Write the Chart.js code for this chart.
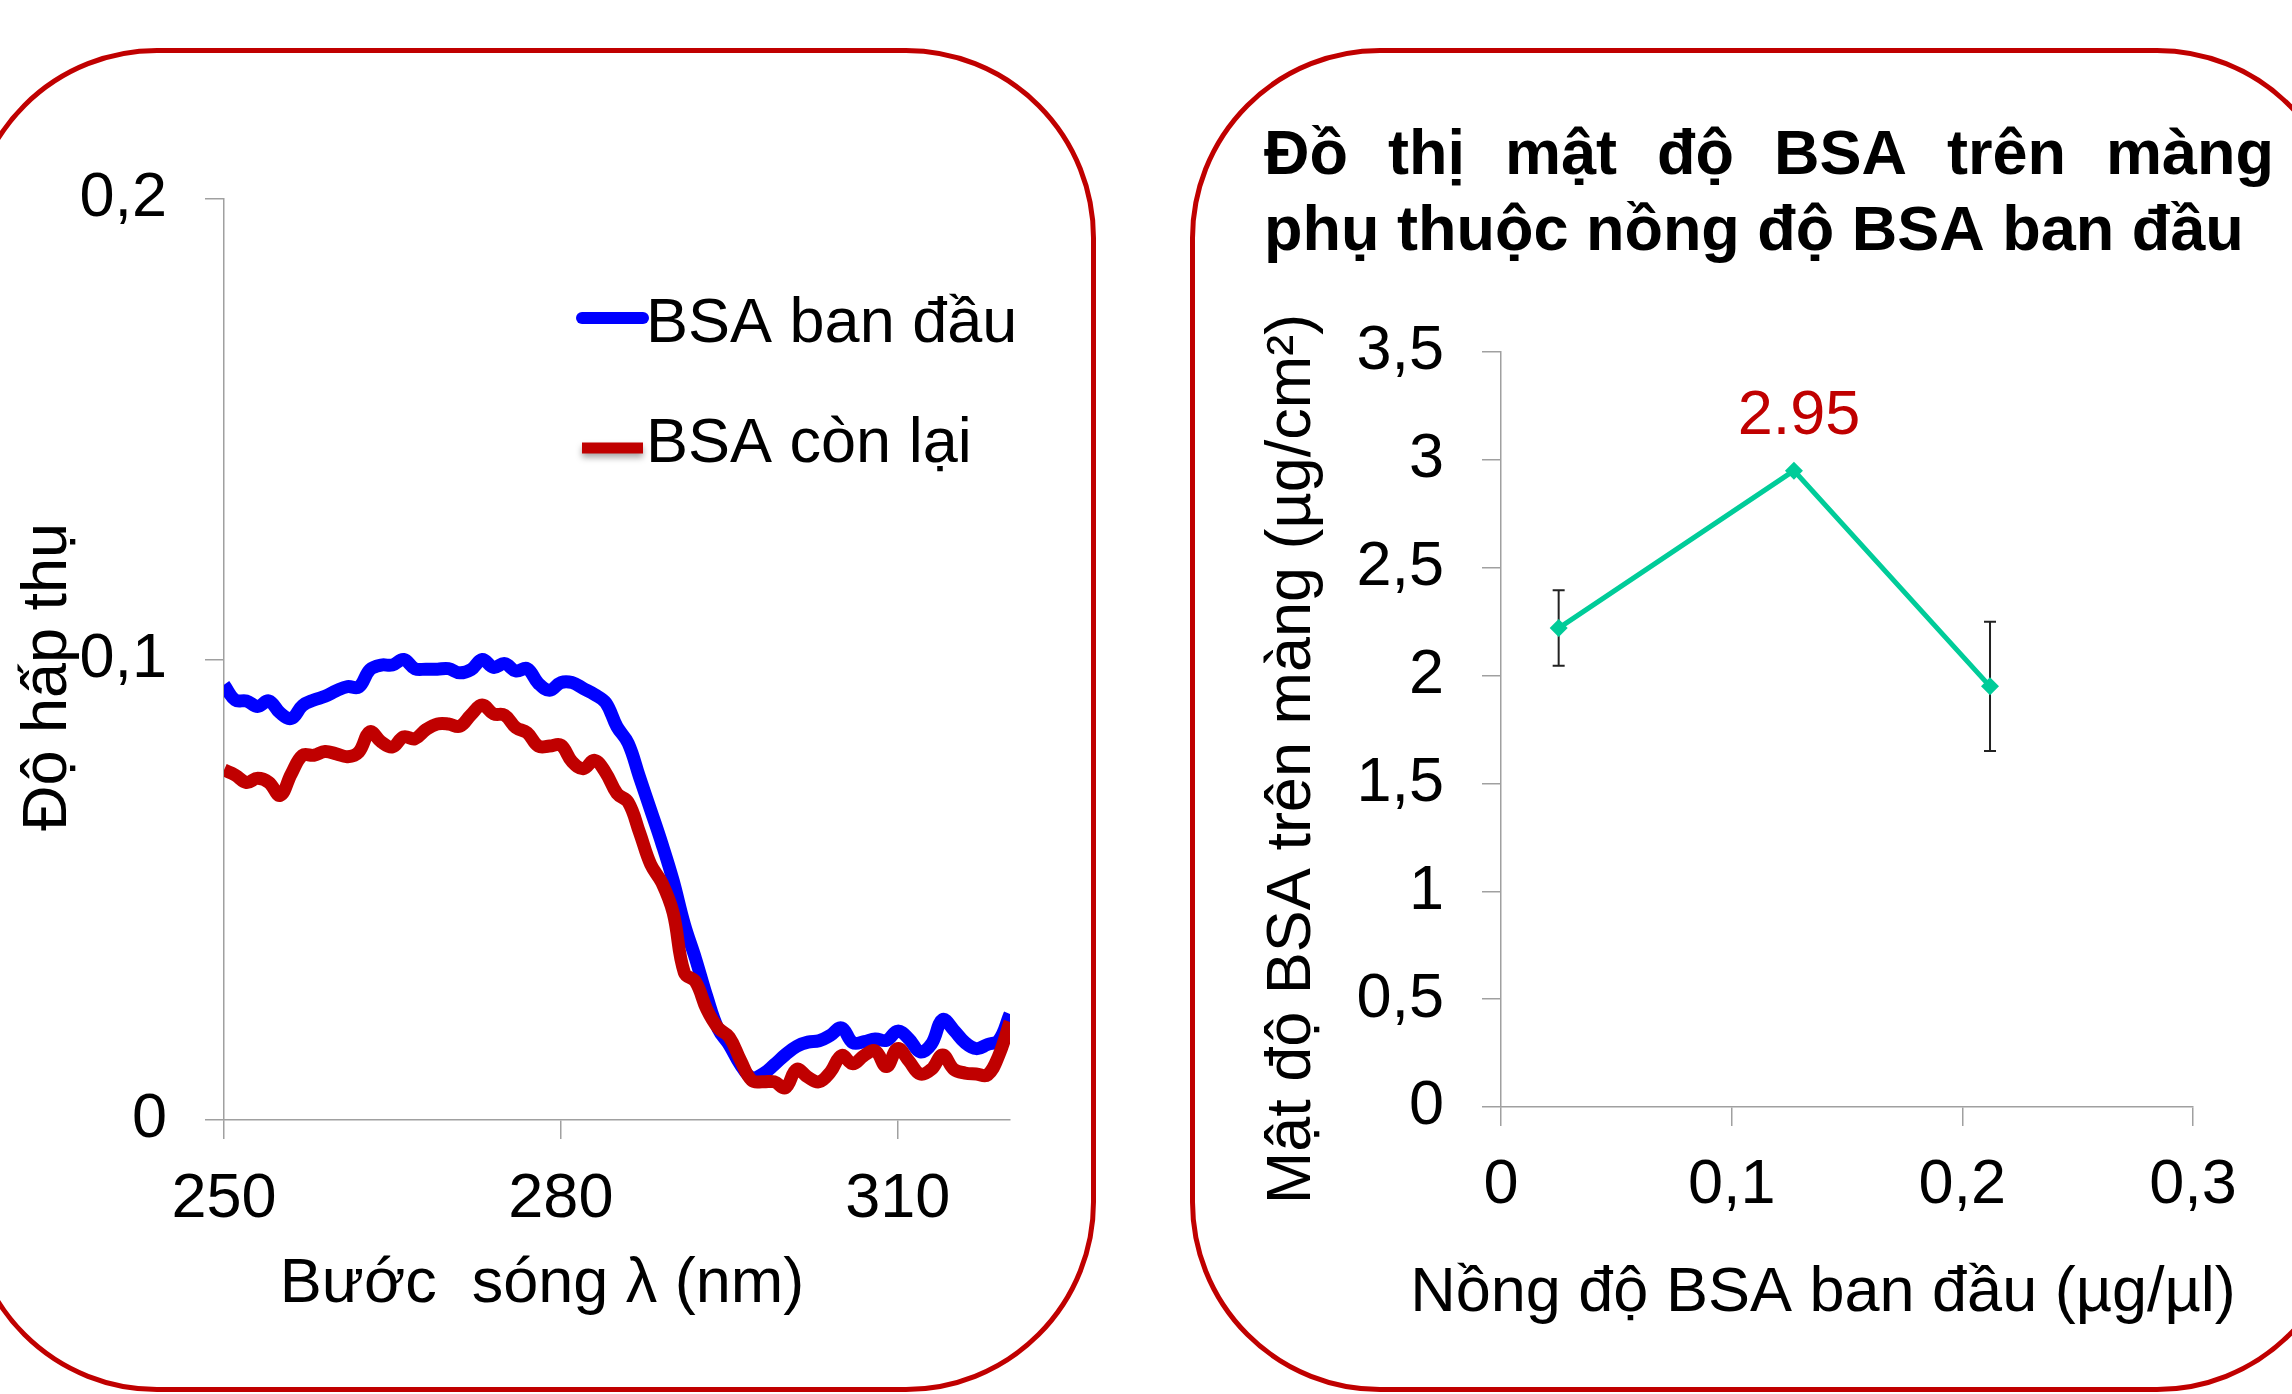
<!DOCTYPE html>
<html>
<head>
<meta charset="utf-8">
<script src="https://cdn.jsdelivr.net/npm/chart.js@4.4.1/dist/chart.umd.min.js"></script>
<style>
  html, body { margin: 0; padding: 0; background: #fff; }
  body { position: relative; width: 2292px; height: 1394px; overflow: hidden; }
  .khung { position: absolute; box-sizing: border-box; border: 5px solid #C00000; border-radius: 190px; }
  #khungTrai { left: -33px; top: 48px; width: 1129px; height: 1344px; }
  #khungPhai { left: 1190px; top: 48px; width: 1157px; height: 1344px; }
  canvas { position: absolute; top: 0; }
  #phoHapThu { left: 0; }
  #matDoBSA { left: 1150px; }
</style>
</head>
<body>
<div class="khung" id="khungTrai"></div>
<div class="khung" id="khungPhai"></div>
<canvas id="phoHapThu" width="1100" height="1394"></canvas>
<canvas id="matDoBSA" width="1142" height="1394"></canvas>
<script>
// Phổ hấp thụ: bước sóng (nm) và độ hấp thụ
const buocSong = [250, 251, 252, 253, 254, 255, 256, 257, 258, 259,
  260, 261, 262, 263, 264, 265, 266, 267, 268, 269,
  270, 271, 272, 273, 274, 275, 276, 277, 278, 279,
  280, 281, 282, 283, 284, 285, 286, 287, 288, 289,
  290, 291, 292, 293, 294, 295, 296, 297, 298, 299,
  300, 301, 302, 303, 304, 305, 306, 307, 308, 309,
  310, 311, 312, 313, 314, 315, 316, 317, 318, 319, 320];

const bsaBanDau = [0.0945, 0.0912, 0.0910, 0.0898, 0.0910, 0.0884, 0.0872, 0.0900, 0.0912, 0.0920,
  0.0932, 0.0941, 0.0940, 0.0978, 0.0988, 0.0988, 0.1000, 0.0980, 0.0979, 0.0979,
  0.0980, 0.0971, 0.0978, 0.1000, 0.0983, 0.0991, 0.0975, 0.0980, 0.0948, 0.0933,
  0.0950, 0.0950, 0.0937, 0.0924, 0.0906, 0.0854, 0.0818, 0.0745, 0.0673, 0.0600,
  0.0520, 0.0425, 0.0350, 0.0268, 0.0198, 0.0163, 0.0120, 0.0092, 0.0100, 0.0120,
  0.0142, 0.0160, 0.0169, 0.0172, 0.0184, 0.0200, 0.0168, 0.0170, 0.0176, 0.0173,
  0.0193, 0.0176, 0.0148, 0.0165, 0.0218, 0.0195, 0.0168, 0.0155, 0.0164, 0.0173, 0.0230];

const bsaConLai = [0.0760, 0.0749, 0.0733, 0.0742, 0.0733, 0.0705, 0.0752, 0.0792, 0.0792, 0.0800,
  0.0795, 0.0789, 0.0799, 0.0843, 0.0821, 0.0810, 0.0832, 0.0828, 0.0848, 0.0860,
  0.0860, 0.0855, 0.0880, 0.0901, 0.0882, 0.0879, 0.0852, 0.0841, 0.0812, 0.0812,
  0.0814, 0.0778, 0.0763, 0.0781, 0.0754, 0.0709, 0.0690, 0.0625, 0.0555, 0.0515,
  0.0450, 0.0320, 0.0300, 0.0240, 0.0200, 0.0180, 0.0130, 0.0086, 0.0083, 0.0083,
  0.0070, 0.0110, 0.0093, 0.0083, 0.0104, 0.0140, 0.0122, 0.0140, 0.0150, 0.0116,
  0.0155, 0.0128, 0.0100, 0.0110, 0.0141, 0.0110, 0.0102, 0.0100, 0.0098, 0.0140, 0.0213];

const tickBuocSong = [250, 280, 310];
const tickHapThu = [0, 0.1, 0.2];

// Mật độ BSA trên màng theo nồng độ ban đầu
const nongDo = [0.025, 0.127, 0.212];
const matDo = [2.22, 2.95, 1.95];
const saiSo = [0.175, 0, 0.30];
const tickNongDo = [0, 0.1, 0.2, 0.3];
const tickMatDo = [0, 0.5, 1, 1.5, 2, 2.5, 3, 3.5];

const FONT = "'Liberation Sans', Arial, sans-serif";
const XAM = '#A0A0A0';

// Số thập phân kiểu Việt Nam: dấu phẩy
const soVN = v => String(Math.round(v * 100) / 100).replace('.', ',');

function trucChung(ticks, extra) {
  return Object.assign({
    type: 'linear',
    afterBuildTicks: s => { s.ticks = ticks.map(v => ({ value: v })); },
    grid: { drawOnChartArea: false, drawTicks: true, tickLength: 19, color: XAM, lineWidth: 1.5 },
    border: { color: XAM, width: 1.5 },
    ticks: { color: '#000', font: { family: FONT, size: 63 }, autoSkip: false, maxRotation: 0, callback: v => soVN(v) }
  }, extra);
}

// Vẽ chữ tự do (tiêu đề trục, tiêu đề biểu đồ)
const chuPlugin = {
  id: 'chu',
  afterDraw(chart, args, opts) {
    const ctx = chart.ctx;
    (opts.items || []).forEach(t => {
      ctx.save();
      ctx.font = t.font;
      ctx.fillStyle = t.color || '#000';
      ctx.textBaseline = 'alphabetic';
      ctx.translate(t.x, t.y);
      if (t.rotate) ctx.rotate(t.rotate);
      if (t.justifyTo) {
        // dàn đều các từ trên cả dòng
        const words = t.text.split(' ');
        const widths = words.map(w => ctx.measureText(w).width);
        const gap = (t.justifyTo - t.x - widths.reduce((a, b) => a + b, 0)) / (words.length - 1);
        let x = 0;
        ctx.textAlign = 'left';
        words.forEach((w, i) => { ctx.fillText(w, x, 0); x += widths[i] + gap; });
      } else {
        ctx.textAlign = t.align || 'center';
        ctx.fillText(t.text, 0, 0);
      }
      ctx.restore();
    });
  }
};

// Chú giải tự vẽ bên trong vùng biểu đồ
const chuGiaiPlugin = {
  id: 'chuGiai',
  afterDraw(chart, args, opts) {
    const ctx = chart.ctx;
    chart.data.datasets.forEach((ds, i) => {
      const it = opts.items[i];
      ctx.save();
      if (it.shadow) {
        ctx.shadowColor = 'rgba(0,0,0,0.35)';
        ctx.shadowBlur = 6;
        ctx.shadowOffsetY = 4;
      }
      ctx.strokeStyle = ds.borderColor;
      ctx.lineWidth = it.width;
      ctx.lineCap = it.cap;
      ctx.beginPath();
      ctx.moveTo(opts.x0, it.lineY);
      ctx.lineTo(opts.x1, it.lineY);
      ctx.stroke();
      ctx.restore();
      ctx.save();
      ctx.font = '63px ' + FONT;
      ctx.fillStyle = '#000';
      ctx.textAlign = 'left';
      ctx.textBaseline = 'alphabetic';
      ctx.fillText(ds.label, opts.textX, it.textY);
      ctx.restore();
    });
  }
};

new Chart(document.getElementById('phoHapThu'), {
  type: 'line',
  data: {
    datasets: [
      {
        label: 'BSA ban đầu',
        data: buocSong.map((w, i) => ({ x: w, y: bsaBanDau[i] })),
        borderColor: '#0000FF', borderWidth: 13, pointRadius: 0, tension: 0.4,
        borderJoinStyle: 'round', order: 2
      },
      {
        label: 'BSA còn lại',
        data: buocSong.map((w, i) => ({ x: w, y: bsaConLai[i] })),
        borderColor: '#C00000', borderWidth: 13, pointRadius: 0, tension: 0.4,
        borderJoinStyle: 'round', order: 1
      }
    ]
  },
  options: {
    responsive: false,
    animation: false,
    layout: { padding: { top: 199, right: 90, left: 0, bottom: 0 } },
    plugins: {
      legend: { display: false },
      tooltip: { enabled: false },
      chuGiai: {
        x0: 582, x1: 643, textX: 646,
        items: [
          { lineY: 318, textY: 342, width: 12, cap: 'round' },
          { lineY: 448, textY: 462, width: 11, cap: 'butt', shadow: true }
        ]
      },
      chu: {
        items: [
          { text: 'Bước  sóng λ (nm)', x: 542, y: 1302, font: '63px ' + FONT },
          { text: 'Độ hấp thụ', x: 66, y: 677, rotate: -Math.PI / 2, font: '63px ' + FONT }
        ]
      }
    },
    scales: {
      x: trucChung(tickBuocSong, {
        min: 250, max: 320,
        afterFit: s => { s.height = 274; },
        ticks: { color: '#000', font: { family: FONT, size: 63 }, padding: 23, autoSkip: false, maxRotation: 0, callback: v => String(v) }
      }),
      y: trucChung(tickHapThu, {
        min: 0, max: 0.2,
        afterFit: s => { s.width = 224; },
        ticks: { color: '#000', font: { family: FONT, size: 63 }, padding: 38, callback: v => soVN(v) }
      })
    }
  },
  plugins: [chuPlugin, chuGiaiPlugin]
});

// Thanh sai số và nhãn giá trị đỉnh
const saiSoPlugin = {
  id: 'saiSo',
  beforeDatasetsDraw(chart) {
    const ctx = chart.ctx, sx = chart.scales.x, sy = chart.scales.y;
    ctx.save();
    ctx.strokeStyle = '#222';
    ctx.lineWidth = 2;
    nongDo.forEach((c, i) => {
      if (!saiSo[i]) return;
      const x = sx.getPixelForValue(c);
      const y1 = sy.getPixelForValue(matDo[i] + saiSo[i]);
      const y2 = sy.getPixelForValue(matDo[i] - saiSo[i]);
      ctx.beginPath();
      ctx.moveTo(x, y1); ctx.lineTo(x, y2);
      ctx.moveTo(x - 6, y1); ctx.lineTo(x + 6, y1);
      ctx.moveTo(x - 6, y2); ctx.lineTo(x + 6, y2);
      ctx.stroke();
    });
    ctx.restore();
  },
  afterDatasetsDraw(chart) {
    const ctx = chart.ctx, sx = chart.scales.x, sy = chart.scales.y;
    const iMax = matDo.indexOf(Math.max(...matDo));
    ctx.save();
    ctx.font = '63px ' + FONT;
    ctx.fillStyle = '#C00000';
    ctx.textAlign = 'center';
    ctx.textBaseline = 'middle';
    ctx.fillText(matDo[iMax].toFixed(2), sx.getPixelForValue(nongDo[iMax]) + 5, sy.getPixelForValue(matDo[iMax]) - 54);
    ctx.restore();
  }
};

new Chart(document.getElementById('matDoBSA'), {
  type: 'line',
  data: {
    datasets: [{
      label: 'Mật độ BSA',
      data: nongDo.map((c, i) => ({ x: c, y: matDo[i] })),
      borderColor: '#00CC99', borderWidth: 5, tension: 0,
      pointStyle: 'rectRot', pointRadius: 9, pointBackgroundColor: '#00CC99', pointBorderWidth: 0
    }]
  },
  options: {
    responsive: false,
    animation: false,
    layout: { padding: { top: 352, right: 99, left: 0, bottom: 0 } },
    plugins: {
      legend: { display: false },
      tooltip: { enabled: false },
      chu: {
        items: [
          { text: 'Đồ thị mật độ BSA trên màng', x: 114, y: 174, justifyTo: 1124, font: 'bold 63px ' + FONT },
          { text: 'phụ thuộc nồng độ BSA ban đầu', x: 114, y: 250, align: 'left', font: 'bold 63px ' + FONT },
          { text: 'Nồng độ BSA ban đầu (µg/µl)', x: 673, y: 1311, font: '63px ' + FONT },
          { text: 'Mật độ BSA trên màng (µg/cm²)', x: 160, y: 759, rotate: -Math.PI / 2, font: '63px ' + FONT }
        ]
      }
    },
    scales: {
      x: trucChung(tickNongDo, {
        min: 0, max: 0.3,
        afterFit: s => { s.height = 287; },
        ticks: { color: '#000', font: { family: FONT, size: 63 }, padding: 22, autoSkip: false, maxRotation: 0, callback: v => soVN(v) }
      }),
      y: trucChung(tickMatDo, {
        min: 0, max: 3.5,
        afterFit: s => { s.width = 351; },
        ticks: { color: '#000', font: { family: FONT, size: 63 }, padding: 38, callback: v => soVN(v) }
      })
    }
  },
  plugins: [chuPlugin, saiSoPlugin]
});
</script>
</body>
</html>
